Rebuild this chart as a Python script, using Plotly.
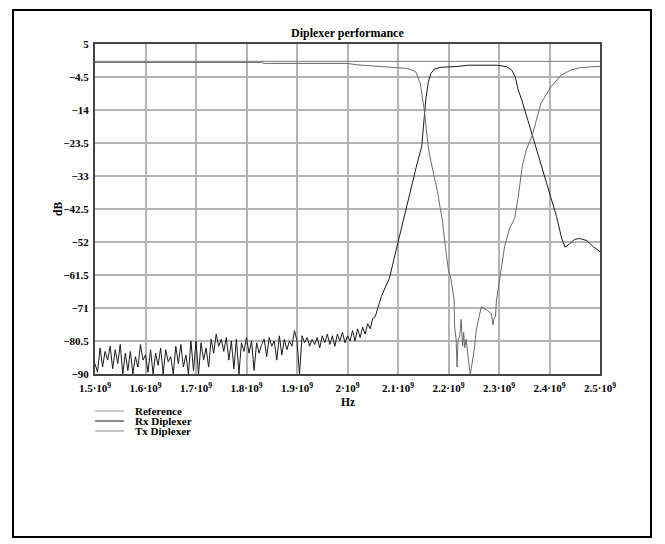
import plotly.graph_objects as go

# ---------------- data ----------------
x_ticks = [1.5e9, 1.6e9, 1.7e9, 1.8e9, 1.9e9, 2.0e9, 2.1e9, 2.2e9, 2.3e9, 2.4e9, 2.5e9]
x_ticktext = ["1.5·10<sup>9</sup>", "1.6·10<sup>9</sup>", "1.7·10<sup>9</sup>", "1.8·10<sup>9</sup>",
              "1.9·10<sup>9</sup>", "2·10<sup>9</sup>", "2.1·10<sup>9</sup>", "2.2·10<sup>9</sup>",
              "2.3·10<sup>9</sup>", "2.4·10<sup>9</sup>", "2.5·10<sup>9</sup>"]
y_ticks = [5, -4.5, -14, -23.5, -33, -42.5, -52, -61.5, -71, -80.5, -90]
y_ticktext = ["5", "−4.5", "−14", "−23.5", "−33", "−42.5", "−52", "−61.5", "−71", "−80.5", "−90"]

ref_f_ghz = [1.5, 2.5]
ref_db = [0, 0]

# Rx diplexer: noisy stop band (5 MHz steps from 1.500 to 2.060 GHz)
rx_noise_start_ghz = 1.500
rx_noise_step_ghz = 0.005
rx_noise_db = [
    -87, -89.5, -82.5, -88, -83.5, -86, -82, -88.5, -83, -87,
    -81.5, -90, -84, -89, -83.5, -90, -85, -88, -81.5, -86,
    -84.5, -89.5, -83, -90, -84, -87.5, -82.5, -90, -83, -86.5,
    -85, -90, -82, -87, -81.5, -88, -84.5, -90, -80.5, -89,
    -80.5, -90, -81, -86, -82.5, -88, -80, -84, -78.5, -82,
    -80, -83.5, -79.5, -86, -80.5, -88.5, -80, -90, -81, -83.5,
    -79.5, -84, -80.5, -89, -81, -84, -81.5, -80, -85, -79.5,
    -82, -80.5, -86, -79, -84.5, -80, -83, -80.5, -82, -77.5,
    -80.5, -90, -79, -81, -79.5, -82, -80, -81.5, -79.5, -82.5,
    -79, -81, -78.5, -81.5, -79, -82, -78.5, -80.5, -78, -81,
    -79, -80.5, -77.5, -80.5, -77, -79.5, -76.5, -78.5, -75.5, -77,
    -74, -73.5, -71,
]
# Rx diplexer: smooth part
rx_f_ghz = [2.067, 2.075, 2.083, 2.091, 2.101, 2.111, 2.120, 2.130, 2.138, 2.147,
            2.151, 2.155, 2.160, 2.165, 2.172, 2.185, 2.215, 2.240, 2.295, 2.315,
            2.325, 2.332, 2.338, 2.345, 2.355, 2.365, 2.375, 2.388, 2.401, 2.414,
            2.424, 2.431, 2.440, 2.450, 2.460, 2.474, 2.487, 2.500]
rx_db = [-67.7, -65, -62.5, -57.5, -51.4, -45.7, -39.9, -34.2, -29.3, -24.5,
         -17, -11, -6, -3.5, -2.2, -1.7, -1.5, -1.1, -1.1, -1.5,
         -2.5, -4.4, -8.2, -11.1, -15.9, -20.7, -25.5, -32.2, -38, -44.7,
         -50.9, -53.5, -52.5, -51.2, -51, -51.6, -53.4, -54.8]

# Tx diplexer
tx_f_ghz = [1.5, 1.83, 1.835, 2.0, 2.02, 2.05, 2.08, 2.10, 2.115, 2.125,
            2.135, 2.144, 2.152, 2.160, 2.165, 2.178, 2.188, 2.194, 2.200, 2.205,
            2.211, 2.212, 2.215, 2.217, 2.219, 2.222, 2.225, 2.228, 2.230, 2.232,
            2.235, 2.238, 2.243, 2.245, 2.251, 2.255, 2.260, 2.265, 2.272, 2.278,
            2.285, 2.288, 2.290, 2.293, 2.295, 2.300, 2.305, 2.311, 2.321, 2.331,
            2.338, 2.346, 2.354, 2.366, 2.383, 2.403, 2.423, 2.442, 2.462, 2.490,
            2.500]
tx_db = [-0.3, -0.3, -0.6, -0.6, -1.0, -1.3, -1.5, -1.7, -2.0, -2.4,
         -3.0, -6.3, -14, -24.8, -28.7, -37.4, -46, -53.6, -60.3, -62.7,
         -68.5, -76.2, -80, -88, -80, -79.5, -74.3, -82, -78, -82.5,
         -80, -84, -90, -88.5, -83, -77.3, -74, -70.6, -71.3, -71.8,
         -72.7, -75.9, -74, -73.5, -68.7, -64, -60, -53.4, -48, -45.2,
         -39, -30.3, -25.5, -21.2, -12.1, -7.3, -4, -2.5, -1.8, -1.5,
         -1.4]

# ---------------- build ----------------
rx_f = [(rx_noise_start_ghz + i * rx_noise_step_ghz) * 1e9 for i in range(len(rx_noise_db))] + \
       [f * 1e9 for f in rx_f_ghz]
rx_y = rx_noise_db + rx_db
tx_f = [f * 1e9 for f in tx_f_ghz]
ref_f = [f * 1e9 for f in ref_f_ghz]

FONT = "Liberation Serif"
REF_C, RX_C, TX_C = "#7a7a7a", "#1a1a1a", "#6a6a6a"

fig = go.Figure()
fig.add_trace(go.Scatter(x=ref_f, y=ref_db, mode="lines", name="Reference",
                         line=dict(color=REF_C, width=1)))
fig.add_trace(go.Scatter(x=rx_f, y=rx_y, mode="lines", name="Rx Diplexer",
                         line=dict(color=RX_C, width=1)))
fig.add_trace(go.Scatter(x=tx_f, y=tx_db, mode="lines", name="Tx Diplexer",
                         line=dict(color=TX_C, width=1)))

OFF = 8  # page body margin
W, H = 665, 544
PL, PR, PT, PB = 95, 600, 44, 374          # target plot box in page pixels
L, T = PL - OFF, PT - OFF
pw, ph = PR - PL, PB - PT
R, B = W - L - pw, H - T - ph


def px(xp):
    return (xp - OFF - L) / pw


def py(yp):
    return (T + ph - (yp - OFF)) / ph


shapes = [dict(type="rect", xref="paper", yref="paper",
               x0=px(13), x1=px(651), y0=py(537), y1=py(10),
               line=dict(color="black", width=2), layer="below")]
annotations = [
    dict(text="<b>Diplexer performance</b>", xref="paper", yref="paper",
         x=0.5, y=py(33), xanchor="center", yanchor="middle", showarrow=False,
         font=dict(family=FONT, size=12, color="black")),
    dict(text="<b>Hz</b>", xref="paper", yref="paper",
         x=0.5, y=py(402), xanchor="center", yanchor="middle", showarrow=False,
         font=dict(family=FONT, size=11.5, color="black")),
    dict(text="<b>dB</b>", xref="paper", yref="paper",
         x=px(58), y=0.5, xanchor="center", yanchor="middle", showarrow=False,
         textangle=-90, font=dict(family=FONT, size=11.5, color="black")),
]
legend_items = [("Reference", "#9a9a9a", 411), ("Rx Diplexer", RX_C, 421), ("Tx Diplexer", "#8a8a8a", 431)]
for name, col, yy in legend_items:
    shapes.append(dict(type="line", xref="paper", yref="paper",
                       x0=px(95), x1=px(124), y0=py(yy), y1=py(yy),
                       line=dict(color=col, width=1)))
    annotations.append(dict(text=f"<b>{name}</b>", xref="paper", yref="paper",
                            x=px(133), y=py(yy), xanchor="left", yanchor="middle",
                            showarrow=False,
                            font=dict(family=FONT, size=11, color="black")))

fig.update_layout(
    width=W, height=H, autosize=False,
    margin=dict(l=L, r=R, t=T, b=B),
    paper_bgcolor="white", plot_bgcolor="white",
    showlegend=False,
    shapes=shapes, annotations=annotations,
    font=dict(family=FONT, size=11, color="black"),
)
fig.update_xaxes(range=[1.5e9, 2.5e9], tickvals=x_ticks, ticktext=[f"<b>{t}</b>" for t in x_ticktext],
                 showgrid=True, gridcolor="#b4b4b4", gridwidth=1.5,
                 showline=True, linecolor="#444444", linewidth=2, mirror=True,
                 ticks="", zeroline=False, ticklabelstandoff=3,
                 tickfont=dict(family=FONT, size=11))
fig.update_yaxes(range=[-90, 5], tickvals=y_ticks, ticktext=[f"<b>{t}</b>" for t in y_ticktext],
                 showgrid=True, gridcolor="#b4b4b4", gridwidth=1.5,
                 showline=True, linecolor="#444444", linewidth=2, mirror=True,
                 ticks="", zeroline=False, ticklabelstandoff=2,
                 tickfont=dict(family=FONT, size=11))

fig.write_html("out.html")
